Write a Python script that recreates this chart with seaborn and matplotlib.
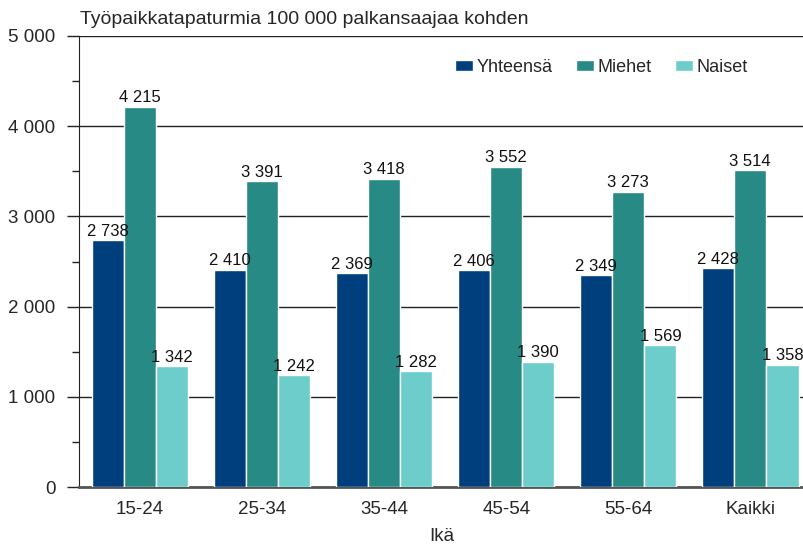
import pandas as pd
import matplotlib.pyplot as plt
import seaborn as sns

ages = ['15-24', '25-34', '35-44', '45-54', '55-64', 'Kaikki']
yhteensa = [2738, 2410, 2369, 2406, 2349, 2428]
miehet = [4215, 3391, 3418, 3552, 3273, 3514]
naiset = [1342, 1242, 1282, 1390, 1569, 1358]
groups = ['Yhteensä', 'Miehet', 'Naiset']
colors = ['#003f7d', '#288a84', '#6ccdcb']


def fmt(v):
    return f'{v:,.0f}'.replace(',', ' ')


df = pd.DataFrame({
    'Ikä': ages * 3,
    'arvo': yhteensa + miehet + naiset,
    'ryhma': [g for g in groups for _ in ages],
})

sns.set_style('white')
plt.rcParams['font.family'] = ['Liberation Sans', 'DejaVu Sans']

fig = plt.figure(figsize=(8.04, 5.47), dpi=100)
ax = fig.add_axes([79 / 804, 60 / 547, 725 / 804, 451 / 547])

sns.barplot(data=df, x='Ikä', y='arvo', hue='ryhma', palette=colors,
            width=0.79, edgecolor='white', linewidth=1, saturation=1,
            ax=ax, zorder=3)

for cont in ax.containers:
    ax.bar_label(cont, labels=[fmt(v) for v in cont.datavalues],
                 padding=1, fontsize=12, color='#111111')

ax.set_ylim(0, 5000)
ax.set_xlim(-0.5, 5.44)
ax.set_yticks(range(0, 5001, 1000))
ax.set_yticks(range(500, 5000, 1000), minor=True)
ax.set_yticklabels([fmt(v) for v in range(0, 5001, 1000)], fontsize=13.5)
ax.tick_params(axis='y', which='major', length=9, width=1, color='#222222', left=True, pad=8)
ax.tick_params(axis='y', which='minor', length=5, width=1, color='#222222', left=True)
ax.tick_params(axis='x', length=0, labelsize=13.5, pad=10)
ax.yaxis.grid(True, color='#222222', linewidth=1)
ax.set_axisbelow(True)

for s in ['top', 'right']:
    ax.spines[s].set_visible(False)
ax.spines['left'].set_color('#222222')
ax.spines['bottom'].set_color('#555555')
ax.spines['bottom'].set_linewidth(2)

ax.set_ylabel('')
ax.set_xlabel('Ikä', fontsize=13.5, labelpad=7)
fig.text(80 / 804, 1 - 19 / 547, 'Työpaikkatapaturmia 100 000 palkansaajaa kohden',
         fontsize=14, va='center', ha='left')

ax.legend(loc='upper right', bbox_to_anchor=(0.945, 0.985), ncol=3, frameon=False,
          fontsize=13, handlelength=1.0, handleheight=0.5, columnspacing=1.3,
          handletextpad=0.2)

fig.savefig('out.png', dpi=100)
